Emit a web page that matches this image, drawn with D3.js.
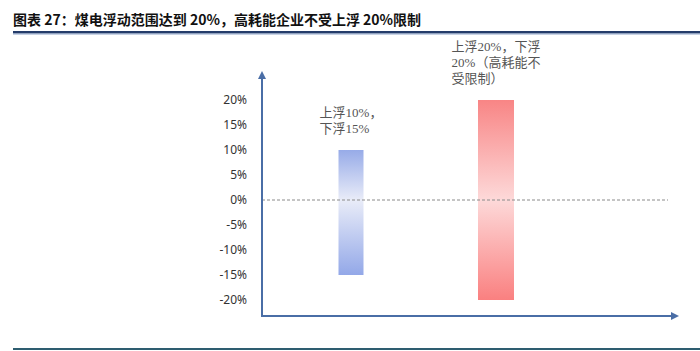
<!DOCTYPE html>
<html>
<head>
<meta charset="utf-8">
<script src="https://cdn.jsdelivr.net/npm/d3@7"></script>
<style>
  html, body { margin: 0; padding: 0; background: #fff; }
  svg { display: block; }
</style>
</head>
<body>
<div id="chart"></div>
<script>
// Chart data
const title = "图表 27：煤电浮动范围达到 20%，高耗能企业不受上浮 20%限制";
const categories = ["煤电", "高耗能企业"];
const upperValues = [10, 20];
const lowerValues = [-15, -20];
const barLabels = [
    ["上浮10%，", "下浮15%"],
    ["上浮20%，下浮", "20%（高耗能不", "受限制）"]
];
const yTicks = [-20, -15, -10, -5, 0, 5, 10, 15, 20];

// Layout
const width = 700, height = 351;
const barWidths = [25, 36];
const gradientStops = [
    [["0%", "#97abe8"], ["40%", "#e9ecf8"], ["100%", "#93a8e8"]],
    [["0%", "#f88585"], ["50%", "#fdd9d9"], ["100%", "#fa8080"]]
];

const svg = d3.select("#chart").append("svg")
    .attr("width", width)
    .attr("height", height);

// Title and rules
svg.append("text")
    .attr("x", 13)
    .attr("y", 25)
    .attr("font-family", "'Noto Sans CJK SC', sans-serif")
    .attr("font-weight", "bold")
    .attr("font-size", 14)
    .attr("fill", "#111")
    .text(title);

svg.append("rect").attr("x", 13).attr("y", 31).attr("width", width - 13).attr("height", 2.5).attr("fill", "#243c6a");
svg.append("rect").attr("x", 13).attr("y", 33.5).attr("width", width - 13).attr("height", 1).attr("fill", "#8fa6c9");
svg.append("rect").attr("x", 13).attr("y", 348).attr("width", width - 13).attr("height", 2).attr("fill", "#2e5d70");

// Scales
const y = d3.scaleLinear().domain([-20, 20]).range([300, 100]);
const x = d3.scalePoint().domain(categories).range([351, 496]);

const axisX = 262, axisBottom = y(-23.2), axisTop = y(25), axisRight = 675;
const axisColor = "#4a6ea6";

// Gradients
const defs = svg.append("defs");
gradientStops.forEach((stops, i) => {
    const g = defs.append("linearGradient")
        .attr("id", "grad" + i)
        .attr("x1", 0).attr("y1", 0).attr("x2", 0).attr("y2", 1);
    stops.forEach(s => g.append("stop").attr("offset", s[0]).attr("stop-color", s[1]));
});

defs.append("marker")
    .attr("id", "arrow")
    .attr("viewBox", "0 0 10 10")
    .attr("refX", 5).attr("refY", 5)
    .attr("markerWidth", 4).attr("markerHeight", 4)
    .attr("orient", "auto")
    .append("path")
    .attr("d", "M0,0 L10,5 L0,10 z")
    .attr("fill", axisColor);

// Y tick labels
svg.append("g")
    .attr("transform", `translate(${axisX},0)`)
    .call(d3.axisLeft(y).tickValues(yTicks).tickSize(0).tickPadding(15).tickFormat(d => d + "%"))
    .call(g => g.select(".domain").remove())
    .selectAll("text")
    .attr("font-family", "'Noto Sans', 'Liberation Sans', sans-serif")
    .attr("font-size", 12)
    .attr("fill", "#333");

// Bars
svg.selectAll(".bar")
    .data(categories)
    .enter()
    .append("rect")
    .attr("class", "bar")
    .attr("x", (d, i) => x(d) - barWidths[i] / 2)
    .attr("width", (d, i) => barWidths[i])
    .attr("y", (d, i) => y(upperValues[i]))
    .attr("height", (d, i) => y(lowerValues[i]) - y(upperValues[i]))
    .attr("fill", (d, i) => `url(#grad${i})`);

// Zero line
svg.append("line")
    .attr("x1", axisX).attr("x2", 668)
    .attr("y1", y(0)).attr("y2", y(0))
    .attr("stroke", "#8a8a8a")
    .attr("stroke-width", 1)
    .attr("stroke-dasharray", "3,2");

// Axes with arrows
svg.append("line")
    .attr("x1", axisX).attr("x2", axisX)
    .attr("y1", axisBottom).attr("y2", axisTop)
    .attr("stroke", axisColor).attr("stroke-width", 2)
    .attr("marker-end", "url(#arrow)");

svg.append("line")
    .attr("x1", axisX - 1).attr("x2", axisRight)
    .attr("y1", axisBottom).attr("y2", axisBottom)
    .attr("stroke", axisColor).attr("stroke-width", 2)
    .attr("marker-end", "url(#arrow)");

// Bar annotations
const lineHeight = 16;
categories.forEach((c, i) => {
    const lines = barLabels[i];
    const topY = y(upperValues[i]) - 17;
    const t = svg.append("text")
        .attr("font-family", "'Liberation Serif', 'Noto Sans CJK SC', serif")
        .attr("font-size", 13)
        .attr("fill", "#555");
    lines.forEach((l, j) => {
        t.append("tspan")
            .attr("y", topY - (lines.length - 1 - j) * lineHeight)
            .text(l);
    });
    let maxW = 0;
    t.selectAll("tspan").each(function () {
        maxW = Math.max(maxW, this.getComputedTextLength());
    });
    t.selectAll("tspan").attr("x", x(c) - maxW / 2);
});
</script>
</body>
</html>
